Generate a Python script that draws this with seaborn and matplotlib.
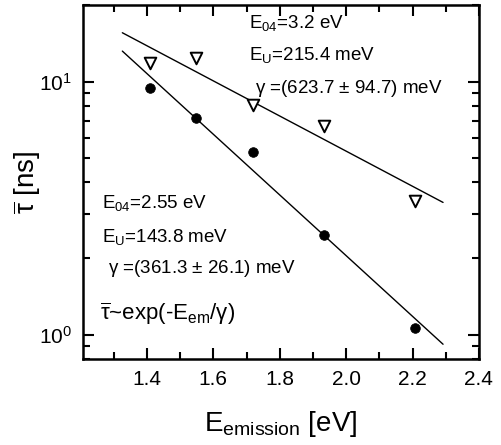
import matplotlib
matplotlib.use("Agg")
import matplotlib.pyplot as plt
import seaborn as sns
import pandas as pd
import numpy as np
from matplotlib.ticker import LogLocator, MultipleLocator, NullFormatter

# Data
e_emission = [1.408, 1.549, 1.721, 1.934, 2.209]
tau_circle = [9.47, 7.2, 5.28, 2.47, 1.06]
tau_triangle = [11.8, 12.4, 8.1, 6.7, 3.37]

fit_x = [1.326, 2.292]
fit_upper = [15.6, 3.33]
fit_lower = [13.2, 0.916]

x_ticks = [1.4, 1.6, 1.8, 2.0, 2.2, 2.4]

sns.set_theme(style="ticks")
plt.rcParams['font.family'] = ['Liberation Sans', 'DejaVu Sans']
plt.rcParams['mathtext.fontset'] = 'custom'
plt.rcParams['mathtext.rm'] = 'Liberation Sans'
plt.rcParams['mathtext.it'] = 'Liberation Sans'
plt.rcParams['mathtext.sf'] = 'Liberation Sans'
plt.rcParams['text.color'] = 'black'
plt.rcParams['axes.labelcolor'] = 'black'
plt.rcParams['xtick.color'] = 'black'
plt.rcParams['ytick.color'] = 'black'

fig = plt.figure(figsize=(5.02, 4.45), dpi=100)
ax = fig.add_axes([0.165, 0.193, 0.789, 0.796])

df_c = pd.DataFrame({"x": e_emission, "y": tau_circle})
df_t = pd.DataFrame({"x": e_emission, "y": tau_triangle})
df_fu = pd.DataFrame({"x": fit_x, "y": fit_upper})
df_fl = pd.DataFrame({"x": fit_x, "y": fit_lower})

sns.lineplot(data=df_fu, x="x", y="y", ax=ax, color="black", lw=1.0)
sns.lineplot(data=df_fl, x="x", y="y", ax=ax, color="black", lw=1.0)
sns.scatterplot(data=df_c, x="x", y="y", ax=ax, color="black", marker="o", s=48,
                edgecolor="black", zorder=3)
sns.scatterplot(data=df_t, x="x", y="y", ax=ax, marker="v", s=70,
                facecolor="white", edgecolor="black", linewidth=1.4, zorder=3)

ax.set_yscale("log")
ax.set_xlim(1.207, 2.4)
ax.set_ylim(0.8, 20.1)
ax.set_xticks(x_ticks)
ax.set_xticklabels([f"{v:.1f}" for v in x_ticks])
ax.xaxis.set_minor_locator(MultipleLocator(0.1))
ax.yaxis.set_major_locator(LogLocator(base=10, numticks=10))
ax.yaxis.set_minor_locator(LogLocator(base=10, subs=np.arange(2, 10), numticks=20))
ax.yaxis.set_minor_formatter(NullFormatter())

for s in ax.spines.values():
    s.set_linewidth(1.8)
    s.set_color("black")
ax.tick_params(which="both", direction="in", top=True, right=True,
               labelsize=15, width=1.5)
ax.tick_params(which="major", length=8, pad=8)
ax.tick_params(which="minor", length=5)

ax.set_xlabel(r"E$_{\mathrm{emission}}$ [eV]", fontsize=20, labelpad=14)
ax.set_ylabel(r"$\overline{\tau}$ [ns]", fontsize=20)
ax.yaxis.set_label_coords(-0.10, 0.5)

fs = 13.5
kw = dict(transform=ax.transAxes, fontsize=fs, va="baseline")
ax.text(0.42, 0.935, r"E$_{04}$=3.2 eV", **kw)
ax.text(0.42, 0.845, r"E$_{\mathrm{U}}$=215.4 meV", **kw)
ax.text(0.435, 0.75, r"$\gamma$ =(623.7 $\pm$ 94.7) meV", **kw)

ax.text(0.048, 0.427, r"E$_{04}$=2.55 eV", **kw)
ax.text(0.048, 0.33, r"E$_{\mathrm{U}}$=143.8 meV", **kw)
ax.text(0.063, 0.243, r"$\gamma$ =(361.3 $\pm$ 26.1) meV", **kw)
ax.text(0.043, 0.11, r"$\overline{\tau}$~exp(-E$_{\mathrm{em}}$/$\gamma$)",
        transform=ax.transAxes, fontsize=16, va="baseline")

fig.savefig("out.png", dpi=100)
